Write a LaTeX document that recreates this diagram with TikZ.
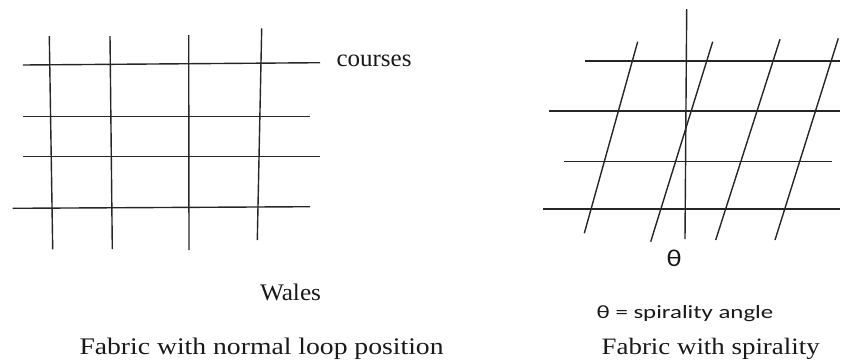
\documentclass[tikz,border=0pt]{standalone}
\usepackage{graphicx}
\usepackage{fontspec}
\setmainfont{Liberation Serif}
\setsansfont{Carlito}
\begin{document}
\begin{tikzpicture}[x=1pt,y=-1pt,
  yarn/.style={draw=black!85,line width=1.4pt},
  lbl/.style={inner sep=0pt,outer sep=0pt,anchor=base west,text=black!90}]
\useasboundingbox (0,0) rectangle (841,360);
% left grid: courses
\draw[yarn] (23,65) -- (320,62.7);
\draw[yarn] (23,116.7) -- (310,116.7);
\draw[yarn] (23,156.7) -- (320,156.7);
\draw[yarn] (12.7,208.3) -- (310,206.7);
% left grid: wales
\draw[yarn] (49.3,36) -- (52.7,249.3);
\draw[yarn] (110,36) -- (112.3,249);
\draw[yarn] (188.7,35) -- (189,250);
\draw[yarn] (261.7,28.3) -- (257.3,240);
% right grid: courses
\draw[yarn] (585,61) -- (840,61);
\draw[yarn] (549,111) -- (840,111);
\draw[yarn] (564.3,161.7) -- (832.3,161.7);
\draw[yarn] (543.3,209) -- (840,209);
% vertical reference
\draw[yarn] (686.7,9) -- (685,239);
% slanted wales
\draw[yarn] (637.7,41.7) -- (584.3,233.3);
\draw[yarn] (712.7,41.7) -- (650.7,241.7);
\draw[yarn] (780,39.3) -- (715.7,240);
\draw[yarn] (838.3,38.3) -- (775,240);
% labels
\node[lbl] (courses) at (336.5,66.5) {\resizebox{75pt}{11.5pt}{courses}};
\node[lbl] (wales) at (260,300) {\resizebox{61pt}{16.5pt}{Wales}};
\node[lbl] (cap1) at (79.5,354.3) {\resizebox{364pt}{16.5pt}{Fabric with normal loop position}};
\node[lbl] (cap2) at (601.7,354) {\resizebox{218pt}{16.3pt}{Fabric with spirality}};
\node[lbl] (theta) at (666.7,266.5) {\resizebox{15pt}{16.5pt}{\sffamily θ}};
\node[lbl] (legend) at (596.7,318.3) {\resizebox{176.6pt}{13pt}{\sffamily θ = spirality angle}};
\end{tikzpicture}
\end{document}
